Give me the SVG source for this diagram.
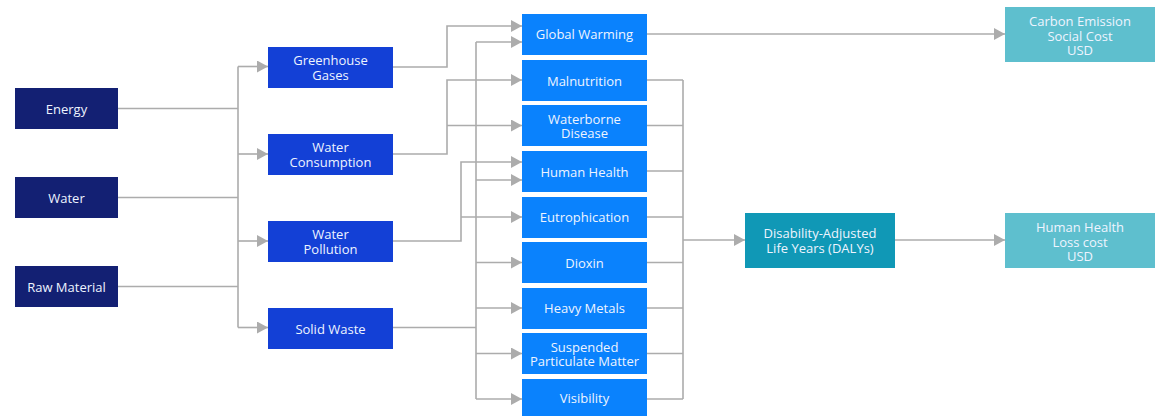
<svg xmlns="http://www.w3.org/2000/svg" width="1157" height="417" viewBox="0 0 1157 417">
  <style>
    .src { fill: #132073; }
    .mid { fill: #1340d6; }
    .imp { fill: #0a82fd; }
    .daly { fill: #1098b6; }
    .cost { fill: #5ebfce; }
    text { font-family: "Open Sans", "Liberation Sans", sans-serif; font-size: 13px; fill: #eef4ff; text-anchor: middle; dominant-baseline: central; }
    .edge { fill: none; stroke: #acacac; stroke-width: 1.6; }
    .arr { marker-end: url(#arrow); }
  </style>
  <defs>
    <marker id="arrow" markerUnits="userSpaceOnUse" markerWidth="12" markerHeight="13" refX="11" refY="6" orient="auto">
      <path d="M0,0 L11,6 L0,12 z" fill="#acacac"/>
    </marker>
  </defs>
  <rect width="1157" height="417" fill="#ffffff"/>

  <g id="connectors">
    <!-- sources to bus -->
    <path class="edge" d="M118,108.5 H238 M118,197.5 H238 M118,286.5 H238 M238,66.5 V327.5"/>
    <path class="edge arr" d="M238,66.5 H268"/>
    <path class="edge arr" d="M238,154 H268"/>
    <path class="edge arr" d="M238,241 H268"/>
    <path class="edge arr" d="M238,327.5 H268"/>

    <!-- greenhouse gases -->
    <path class="edge arr" d="M393,67 H447 V26 H522"/>
    <!-- water consumption -->
    <path class="edge arr" d="M393,154 H447 V80 H522"/>
    <path class="edge arr" d="M447,125.5 H522"/>
    <!-- water pollution -->
    <path class="edge arr" d="M393,241 H461 V162 H522"/>
    <path class="edge arr" d="M461,217 H522"/>
    <!-- solid waste -->
    <path class="edge" d="M393,327.5 H476 M476,42 V399"/>
    <path class="edge arr" d="M476,42 H522"/>
    <path class="edge arr" d="M476,180 H522"/>
    <path class="edge arr" d="M476,262.5 H522"/>
    <path class="edge arr" d="M476,308 H522"/>
    <path class="edge arr" d="M476,353.5 H522"/>
    <path class="edge arr" d="M476,399 H522"/>

    <!-- impacts to DALYs -->
    <path class="edge" d="M647,80 H683 M647,125.5 H683 M647,171 H683 M647,217 H683 M647,262.5 H683 M647,308 H683 M647,353.5 H683 M647,399 H683 M683,80 V399"/>
    <path class="edge arr" d="M683,240 H745"/>

    <!-- to cost outputs -->
    <path class="edge arr" d="M647,34 H1005"/>
    <path class="edge arr" d="M895,240 H1005"/>
  </g>

  <!-- sources -->
  <g id="energy"><rect class="src" x="15" y="88" width="103" height="41"/><text x="66.5" y="108.5">Energy</text></g>
  <g id="water"><rect class="src" x="15" y="177" width="103" height="41"/><text x="66.5" y="197.5">Water</text></g>
  <g id="raw-material"><rect class="src" x="15" y="266" width="103" height="41"/><text x="66.5" y="286.5">Raw Material</text></g>

  <!-- environmental pressures -->
  <g id="greenhouse-gases"><rect class="mid" x="268" y="47" width="125" height="41"/><text x="330.5" y="60">Greenhouse</text><text x="330.5" y="74.5">Gases</text></g>
  <g id="water-consumption"><rect class="mid" x="268" y="134" width="125" height="41"/><text x="330.5" y="147">Water</text><text x="330.5" y="161.5">Consumption</text></g>
  <g id="water-pollution"><rect class="mid" x="268" y="221" width="125" height="41"/><text x="330.5" y="234">Water</text><text x="330.5" y="248.5">Pollution</text></g>
  <g id="solid-waste"><rect class="mid" x="268" y="308" width="125" height="41"/><text x="330.5" y="328.5">Solid Waste</text></g>

  <!-- impacts -->
  <g id="global-warming"><rect class="imp" x="522" y="14" width="125" height="41"/><text x="584.5" y="34">Global Warming</text></g>
  <g id="malnutrition"><rect class="imp" x="522" y="60" width="125" height="41"/><text x="584.5" y="80.5">Malnutrition</text></g>
  <g id="waterborne-disease"><rect class="imp" x="522" y="105" width="125" height="41"/><text x="584.5" y="118.5">Waterborne</text><text x="584.5" y="133">Disease</text></g>
  <g id="human-health"><rect class="imp" x="522" y="151" width="125" height="41"/><text x="584.5" y="171.5">Human Health</text></g>
  <g id="eutrophication"><rect class="imp" x="522" y="197" width="125" height="41"/><text x="584.5" y="217">Eutrophication</text></g>
  <g id="dioxin"><rect class="imp" x="522" y="242" width="125" height="41"/><text x="584.5" y="262.5">Dioxin</text></g>
  <g id="heavy-metals"><rect class="imp" x="522" y="288" width="125" height="41"/><text x="584.5" y="308">Heavy Metals</text></g>
  <g id="suspended-particulate-matter"><rect class="imp" x="522" y="333" width="125" height="41"/><text x="584.5" y="346.5">Suspended</text><text x="584.5" y="361">Particulate Matter</text></g>
  <g id="visibility"><rect class="imp" x="522" y="379" width="125" height="37"/><text x="584.5" y="397.5">Visibility</text></g>

  <!-- DALYs -->
  <g id="dalys"><rect class="daly" x="745" y="213" width="150" height="55"/><text x="820" y="233">Disability-Adjusted</text><text x="820" y="247.5">Life Years (DALYs)</text></g>

  <!-- monetised costs -->
  <g id="carbon-emission-cost"><rect class="cost" x="1005" y="7" width="150" height="55"/><text x="1080" y="21">Carbon Emission</text><text x="1080" y="35.5">Social Cost</text><text x="1080" y="50">USD</text></g>
  <g id="human-health-loss-cost"><rect class="cost" x="1005" y="213" width="150" height="55"/><text x="1080" y="227">Human Health</text><text x="1080" y="241.5">Loss cost</text><text x="1080" y="256">USD</text></g>
</svg>
